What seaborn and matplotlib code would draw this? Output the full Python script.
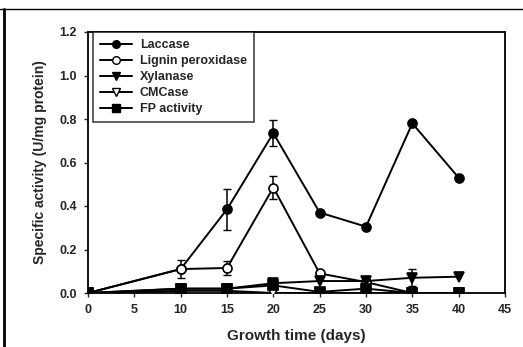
import matplotlib
matplotlib.use("Agg")
import matplotlib.pyplot as plt
import seaborn as sns
import pandas as pd
from matplotlib.lines import Line2D

sns.set_style("white")
plt.rcParams['font.family'] = ['Liberation Sans', 'DejaVu Sans']
plt.rcParams['font.weight'] = 'bold'

days = [0, 10, 15, 20, 25, 30, 35, 40]
laccase = [0.0, 0.11, 0.385, 0.735, 0.37, 0.305, 0.78, 0.53]
laccase_err = [0, 0.0, 0.095, 0.06, 0, 0, 0, 0]
lignin = [0.0, 0.11, 0.115, 0.485, 0.09, 0.05, 0.0, 0.0]
lignin_err = [0, 0.04, 0.03, 0.055, 0, 0, 0, 0]
xylanase = [0.0, 0.02, 0.02, 0.045, 0.055, 0.055, 0.07, 0.075]
xylanase_err = [0, 0, 0, 0, 0, 0.02, 0.04, 0]
cmcase = [0.0, 0.01, 0.01, 0.0, 0.0, 0.0, 0.0, 0.0]
fp = [0.0, 0.02, 0.02, 0.035, 0.005, 0.02, 0.0, 0.0]

series = ["Laccase", "Lignin peroxidase", "Xylanase", "CMCase", "FP activity"]
values = [laccase, lignin, xylanase, cmcase, fp]
errors = [laccase_err, lignin_err, xylanase_err, None, None]
markers = ["o", "o", "v", "v", "s"]
faces = ["black", "white", "black", "white", "black"]

rows = []
for name, vals in zip(series, values):
    for d, v in zip(days, vals):
        rows.append({"day": d, "value": v, "series": name})
df = pd.DataFrame(rows)

fig = plt.figure(figsize=(5.23, 3.47), dpi=100)
ax = fig.add_axes([88/523, 1-293/347, (505-88)/523, (293-32)/347])

for name, err, m, fc in zip(series, errors, markers, faces):
    sub = df[df.series == name]
    sns.lineplot(data=sub, x="day", y="value", ax=ax, color="black", lw=1.4,
                 marker=m, markersize=6.5, markerfacecolor=fc, markeredgecolor="black",
                 markeredgewidth=1.2, label=name, legend=False, zorder=3)
    if err is not None:
        for d, v, e in zip(days, sub["value"], err):
            if e > 0:
                ax.errorbar(d, v, yerr=e, color="black", capsize=3, lw=1.1, zorder=2)

ax.set_xlim(0, 45)
ax.set_ylim(0, 1.2)
ax.set_xticks(range(0, 50, 5))
ax.set_yticks([0, 0.2, 0.4, 0.6, 0.8, 1.0, 1.2])
ax.set_yticklabels(["0.0", "0.2", "0.4", "0.6", "0.8", "1.0", "1.2"])
ax.tick_params(axis="both", labelsize=9, length=3, width=1.0, direction="out",
               bottom=True, left=True, pad=5)
for lab in ax.get_xticklabels() + ax.get_yticklabels():
    lab.set_fontweight("bold")
for sp in ax.spines.values():
    sp.set_color("black")
    sp.set_linewidth(1.3)
ax.set_xlabel("Growth time (days)", fontsize=11, fontweight="bold", labelpad=9)
ax.set_ylabel("Specific activity (U/mg protein)", fontsize=10, fontweight="bold", labelpad=9)

handles = [Line2D([], [], color="black", lw=1.4, marker=m, markersize=5.5,
                  markerfacecolor=fc, markeredgecolor="black") for m, fc in zip(markers, faces)]
leg = ax.legend(handles, series, loc="upper left", bbox_to_anchor=(0.012, 1.0),
                fontsize=9, frameon=True, fancybox=False, borderpad=0.55,
                labelspacing=0.33, handlelength=2.6, handletextpad=0.6, borderaxespad=0.0)
leg.get_frame().set_edgecolor("black")
leg.get_frame().set_linewidth(1.1)
for t in leg.get_texts():
    t.set_fontweight("bold")

# scanned page border
fig.add_artist(Line2D([4/523, 4/523], [0, 1-9/347], color="black", lw=2, transform=fig.transFigure))
fig.add_artist(Line2D([0, 1], [1-9/347, 1-9/347], color="black", lw=1, transform=fig.transFigure))

fig.savefig("out.png", dpi=100)
